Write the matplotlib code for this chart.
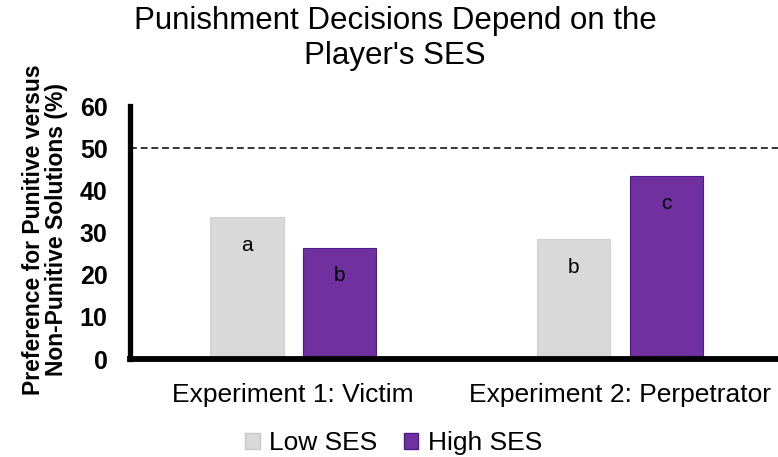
import numpy as np
import matplotlib.pyplot as plt
from matplotlib.patches import Patch

plt.rcParams['font.family'] = ['Liberation Sans', 'DejaVu Sans']

categories = ['Experiment 1: Victim', 'Experiment 2: Perpetrator']
low_ses = [33.6, 28.4]
high_ses = [26.3, 43.4]
low_letters = ['a', 'b']
high_letters = ['b', 'c']

low_color = '#d9d9d9'
high_color = '#7030a0'

fig = plt.figure(figsize=(7.78, 4.57), dpi=100)
ax = fig.add_axes([0.167, 0.2144, 0.84, 0.5536])

x = np.arange(len(categories))
w = 0.225
b1 = ax.bar(x - 0.142, low_ses, w, color=low_color, edgecolor='#d0d0d0', linewidth=0.8)
b2 = ax.bar(x + 0.142, high_ses, w, color=high_color, edgecolor='#4b1d8c', linewidth=0.8)

# significance letters inside the top of each bar
for bars, letters in [(b1, low_letters), (b2, high_letters)]:
    for bar, lab in zip(bars, letters):
        ax.annotate(lab, (bar.get_x() + bar.get_width() / 2, bar.get_height()),
                    xytext=(0, -20), textcoords='offset points',
                    ha='center', va='center', fontsize=15)

ax.axhline(50, color='black', linestyle=(0, (4.5, 2.5)), linewidth=1.1)

ax.set_xlim(-0.5, 1.5)
ax.set_ylim(0, 60)
ax.set_yticks(range(0, 61, 10))
ax.set_xticks(x)
ax.set_xticklabels(categories, fontsize=19)
ax.tick_params(axis='y', labelsize=18, length=0, pad=16)
ax.tick_params(axis='x', length=0, pad=17)
for t in ax.get_yticklabels():
    t.set_fontweight('bold')

for s in ['top', 'right']:
    ax.spines[s].set_visible(False)
ax.spines['left'].set_linewidth(3.8)
ax.spines['bottom'].set_linewidth(4.2)

ax.set_ylabel('Preference for Punitive versus\nNon-Punitive Solutions (%)',
              fontsize=16.5, fontweight='bold', linespacing=1.0)
ax.yaxis.set_label_coords(-0.095, 0.51)

fig.suptitle("Punishment Decisions Depend on the\nPlayer's SES", fontsize=22.5,
             x=0.508, y=0.987, va='top')

handles = [Patch(facecolor=low_color, edgecolor='#c8c8c8'),
           Patch(facecolor=high_color, edgecolor='#4b1d8c')]
fig.legend(handles, ['Low SES', 'High SES'], loc='center', ncol=2,
           bbox_to_anchor=(0.506, 0.03), frameon=False, fontsize=19,
           handlelength=0.55, handleheight=0.55, handletextpad=0.35,
           columnspacing=1.0, borderpad=0)

fig.savefig('out.png', dpi=100)
